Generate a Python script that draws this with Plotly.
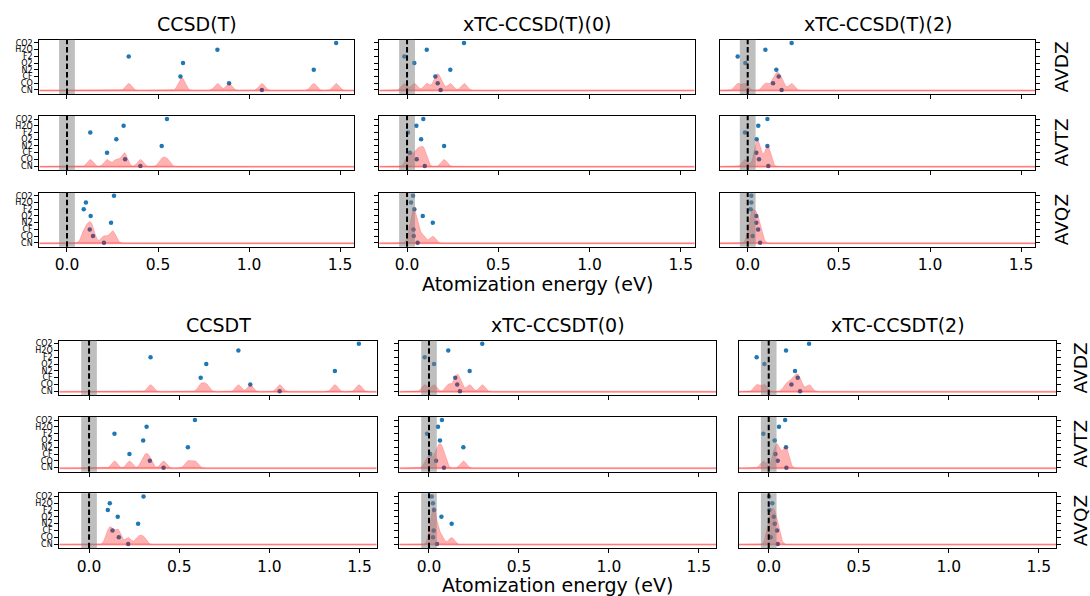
import numpy as np
import plotly.graph_objects as go

MOLECULES = ["CN", "CO", "CF", "N2", "O2", "F2", "H2O", "CO2"]
BASIS = ["AVDZ", "AVTZ", "AVQZ"]
METHODS_TOP = ["CCSD(T)", "xTC-CCSD(T)(0)", "xTC-CCSD(T)(2)"]
METHODS_BOT = ["CCSDT", "xTC-CCSDT(0)", "xTC-CCSDT(2)"]
XTICKS = [0.0, 0.5, 1.0, 1.5]
CHEM_ACC = 0.0434  # 1 kcal/mol in eV

# errors (eV), molecule order as MOLECULES
CCSD_T = {
    "AVDZ": [1.070, 0.890, 0.623, 1.355, 0.637, 0.339, 0.826, 1.478],
    "AVTZ": [0.403, 0.319, 0.220, 0.520, 0.271, 0.128, 0.311, 0.549],
    "AVQZ": [0.203, 0.143, 0.125, 0.242, 0.130, 0.092, 0.104, 0.258],
}
XTC_CCSD_T_0 = {
    "AVDZ": [0.184, 0.168, 0.155, 0.237, 0.040, -0.015, 0.108, 0.312],
    "AVTZ": [0.097, 0.053, 0.016, 0.203, 0.077, 0.005, 0.051, 0.089],
    "AVQZ": [0.058, 0.036, 0.035, 0.141, 0.086, 0.040, 0.022, 0.033],
}
XTC_CCSD_T_2 = {
    "AVDZ": [0.186, 0.139, 0.170, 0.157, -0.013, -0.055, 0.097, 0.241],
    "AVTZ": [0.113, 0.062, 0.047, 0.108, 0.049, -0.015, 0.058, 0.108],
    "AVQZ": [0.068, 0.027, 0.057, 0.047, 0.047, 0.016, 0.020, 0.020],
}
CCSDT = {
    "AVDZ": [1.057, 0.894, 0.619, 1.363, 0.650, 0.341, 0.828, 1.496],
    "AVTZ": [0.413, 0.337, 0.224, 0.548, 0.300, 0.141, 0.319, 0.587],
    "AVQZ": [0.217, 0.165, 0.130, 0.272, 0.159, 0.104, 0.115, 0.302],
}
XTC_CCSDT_0 = {
    "AVDZ": [0.172, 0.157, 0.146, 0.226, 0.028, -0.024, 0.107, 0.296],
    "AVTZ": [0.083, 0.039, 0.007, 0.191, 0.061, -0.011, 0.050, 0.072],
    "AVQZ": [0.044, 0.022, 0.026, 0.126, 0.069, 0.028, 0.022, 0.015],
}
XTC_CCSDT_2 = {
    "AVDZ": [0.174, 0.126, 0.161, 0.146, -0.024, -0.067, 0.096, 0.224],
    "AVTZ": [0.098, 0.050, 0.037, 0.096, 0.033, -0.030, 0.057, 0.091],
    "AVQZ": [0.050, 0.011, 0.046, 0.033, 0.028, 0.004, 0.020, 0.002],
}

W, H = 1090, 596
FONT = "DejaVu Sans"

groups = [
    dict(methods=METHODS_TOP, data=[CCSD_T, XTC_CCSD_T_0, XTC_CCSD_T_2],
         cols=[(39.3, 354.0), (379.3, 694.7), (720.0, 1035.0)],
         rows=[(39.0, 93.3), (115.3, 169.7), (192.3, 246.7)],
         xr=[-0.152, 1.576], title_y=22.7, xlab_y=283.5, right_x=1061.5),
    dict(methods=METHODS_BOT, data=[CCSDT, XTC_CCSDT_0, XTC_CCSDT_2],
         cols=[(59.3, 376.7), (399.3, 716.0), (739.0, 1056.0)],
         rows=[(340.7, 395.7), (417.3, 472.3), (494.0, 549.0)],
         xr=[-0.165, 1.595], title_y=325.0, xlab_y=586.0, right_x=1080.5),
]

SIGMA = 0.0165
AMP = 1.05
BASE = -0.08
YR = [-0.6, 7.46]
PINK = "rgba(255,0,0,0.3)"

fig = go.Figure()
layout = {}
shapes = []
annotations = []

def fx(px):
    return px / W

def fy(py):
    return 1 - py / H

k = 0
for g in groups:
    for ci, (method, dset) in enumerate(zip(g["methods"], g["data"])):
        x0p, x1p = g["cols"][ci]
        for ri, basis in enumerate(BASIS):
            k += 1
            y0p, y1p = g["rows"][ri]
            xa = "x" if k == 1 else f"x{k}"
            ya = "y" if k == 1 else f"y{k}"
            vals = np.array(dset[basis])
            ypos = list(range(len(MOLECULES)))
            fig.add_trace(go.Scatter(
                x=vals, y=ypos, mode="markers", xaxis=xa, yaxis=ya,
                marker=dict(color="#1f77b4", size=4.5, line=dict(width=0)),
                showlegend=False, hoverinfo="skip"))
            grid = np.linspace(g["xr"][0], g["xr"][1], 700)
            dens = AMP * np.exp(-(grid[:, None] - vals[None, :]) ** 2 / (2 * SIGMA ** 2)).sum(axis=1)
            px = np.concatenate([grid, grid[::-1]])
            py = np.concatenate([BASE + dens, np.full(grid.size, BASE)])
            fig.add_trace(go.Scatter(
                x=px, y=py, mode="lines", fill="toself", xaxis=xa, yaxis=ya,
                fillcolor=PINK, line=dict(color=PINK, width=0.6),
                showlegend=False, hoverinfo="skip"))
            fig.add_trace(go.Scatter(
                x=[grid[0], grid[-1]], y=[BASE, BASE], mode="lines",
                xaxis=xa, yaxis=ya, line=dict(color=PINK, width=2),
                showlegend=False, hoverinfo="skip"))
            bottom = ri == 2
            xkey = "xaxis" if k == 1 else f"xaxis{k}"
            ykey = "yaxis" if k == 1 else f"yaxis{k}"
            layout[xkey] = dict(
                domain=[fx(x0p), fx(x1p)], anchor=ya, range=g["xr"],
                tickvals=XTICKS, ticktext=[f"{v:.1f}" for v in XTICKS],
                showticklabels=bottom, ticks="outside", ticklen=4, tickwidth=1,
                tickcolor="black", showline=True, linecolor="black", linewidth=1,
                mirror=True, showgrid=False, zeroline=False,
                tickfont=dict(family=FONT, size=15.5, color="black"))
            layout[ykey] = dict(
                domain=[fy(y1p), fy(y0p)], anchor=xa, range=YR,
                tickvals=ypos, ticktext=MOLECULES,
                showticklabels=(ci == 0), side=("right" if ci == 2 else "left"),
                ticks="outside", ticklen=4, tickwidth=1, tickcolor="black",
                showline=True, linecolor="black", linewidth=1, mirror=True,
                showgrid=False, zeroline=False,
                tickfont=dict(family=FONT, size=8, color="black"))
            shapes.append(dict(type="rect", xref=xa, yref=f"{ya} domain",
                               x0=-CHEM_ACC, x1=CHEM_ACC, y0=0, y1=1,
                               fillcolor="rgba(128,128,128,0.5)", line=dict(width=0),
                               layer="above"))
            shapes.append(dict(type="line", xref=xa, yref=f"{ya} domain",
                               x0=0, x1=0, y0=0, y1=1, layer="above",
                               line=dict(color="black", width=2, dash="5.5px,2.8px")))
            if ci == 2:
                annotations.append(dict(
                    text=basis, x=fx(g["right_x"]), y=fy((y0p + y1p) / 2),
                    xref="paper", yref="paper", showarrow=False, textangle=-90,
                    font=dict(family=FONT, size=18.5, color="black"),
                    xanchor="center", yanchor="middle"))
        annotations.append(dict(
            text=method, x=fx((x0p + x1p) / 2), y=fy(g["title_y"]),
            xref="paper", yref="paper", showarrow=False,
            font=dict(family=FONT, size=19, color="black"),
            xanchor="center", yanchor="middle"))
    mx0, mx1 = g["cols"][1]
    annotations.append(dict(
        text="Atomization energy (eV)", x=fx((mx0 + mx1) / 2), y=fy(g["xlab_y"]),
        xref="paper", yref="paper", showarrow=False,
        font=dict(family=FONT, size=19, color="black"),
        xanchor="center", yanchor="middle"))

fig.update_layout(**layout)
fig.update_layout(width=W, height=H, margin=dict(l=0, r=0, t=0, b=0),
                  paper_bgcolor="white", plot_bgcolor="white",
                  shapes=shapes, annotations=annotations, showlegend=False,
                  font=dict(family=FONT))
fig.write_html("out.html", config={"displayModeBar": False},
               post_script="document.body.style.margin='0px';document.body.style.overflow='hidden';")
